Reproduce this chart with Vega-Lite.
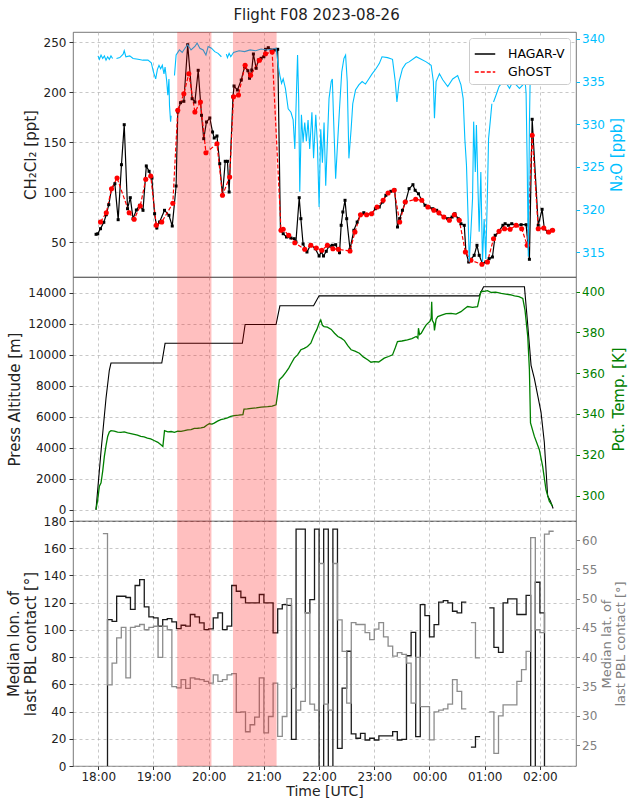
{
  "$schema": "https://vega.github.io/schema/vega-lite/v6.json",
  "padding": {"left": 5, "top": 7, "right": 0, "bottom": 0},
  "bounds": "flush",
  "title": {"text": "Flight F08 2023-08-26", "fontSize": 15, "font": "DejaVu Sans", "fontWeight": "normal", "anchor": "middle", "offset": 9, "color": "#222"},
  "config": {
    "font": "DejaVu Sans",
    "view": {"stroke": "#555", "strokeWidth": 0.8},
    "axis": {"labelFont": "DejaVu Sans", "titleFont": "DejaVu Sans", "labelFontSize": 12, "titleFontSize": 15, "titleFontWeight": "normal", "domain": false, "tickColor": "#333", "tickSize": 4, "labelColor": "#222", "titleColor": "#222", "gridDash": [3, 3], "gridColor": "#b0b0b0", "gridWidth": 0.7, "labelPadding": 3, "titlePadding": 5, "labelOverlap": false},
    "legend": {"labelFont": "DejaVu Sans", "labelFontSize": 12.5}
  },
  "spacing": 0,
  "datasets": {
    "shade": [{"t": 19.43, "t2": 20.05}, {"t": 20.44, "t2": 21.23}],
    "chem": [
      {"t": 17.96, "v": 58, "inst": "HAGAR-V"}, {"t": 17.99, "v": 58.5, "inst": "HAGAR-V"}, {"t": 18.04, "v": 63.6, "inst": "HAGAR-V"}, {"t": 18.10, "v": 70, "inst": "HAGAR-V"}, {"t": 18.145, "v": 77.6, "inst": "HAGAR-V"}, {"t": 18.19, "v": 87.6, "inst": "HAGAR-V"}, {"t": 18.24, "v": 103.6, "inst": "HAGAR-V"}, {"t": 18.30, "v": 108.6, "inst": "HAGAR-V"}, {"t": 18.36, "v": 72.6, "inst": "HAGAR-V"}, {"t": 18.42, "v": 127.6, "inst": "HAGAR-V"}, {"t": 18.47, "v": 167.6, "inst": "HAGAR-V"}, {"t": 18.53, "v": 83.6, "inst": "HAGAR-V"}, {"t": 18.58, "v": 94.6, "inst": "HAGAR-V"}, {"t": 18.63, "v": 73.6, "inst": "HAGAR-V"}, {"t": 18.69, "v": 82.3, "inst": "HAGAR-V"}, {"t": 18.75, "v": 87, "inst": "HAGAR-V"}, {"t": 18.81, "v": 82, "inst": "HAGAR-V"}, {"t": 18.87, "v": 126.3, "inst": "HAGAR-V"}, {"t": 18.92, "v": 121, "inst": "HAGAR-V"}, {"t": 18.97, "v": 114.3, "inst": "HAGAR-V"}, {"t": 19.02, "v": 78.6, "inst": "HAGAR-V"}, {"t": 19.06, "v": 64.3, "inst": "HAGAR-V"}, {"t": 19.11, "v": 70.3, "inst": "HAGAR-V"}, {"t": 19.20, "v": 82, "inst": "HAGAR-V"}, {"t": 19.28, "v": 77, "inst": "HAGAR-V"}, {"t": 19.34, "v": 66.3, "inst": "HAGAR-V"}, {"t": 19.41, "v": 106.3, "inst": "HAGAR-V"}, {"t": 19.44, "v": 180.3, "inst": "HAGAR-V"}, {"t": 19.49, "v": 189.6, "inst": "HAGAR-V"}, {"t": 19.55, "v": 191, "inst": "HAGAR-V"}, {"t": 19.62, "v": 247.6, "inst": "HAGAR-V"}, {"t": 19.70, "v": 193.6, "inst": "HAGAR-V"}, {"t": 19.75, "v": 190.3, "inst": "HAGAR-V"}, {"t": 19.81, "v": 222, "inst": "HAGAR-V"}, {"t": 19.87, "v": 177, "inst": "HAGAR-V"}, {"t": 19.91, "v": 153.6, "inst": "HAGAR-V"}, {"t": 19.96, "v": 170.3, "inst": "HAGAR-V"}, {"t": 20.02, "v": 174.3, "inst": "HAGAR-V"}, {"t": 20.07, "v": 160.3, "inst": "HAGAR-V"}, {"t": 20.10, "v": 154.3, "inst": "HAGAR-V"}, {"t": 20.15, "v": 156.3, "inst": "HAGAR-V"}, {"t": 20.20, "v": 128.6, "inst": "HAGAR-V"}, {"t": 20.25, "v": 97, "inst": "HAGAR-V"}, {"t": 20.30, "v": 131, "inst": "HAGAR-V"}, {"t": 20.34, "v": 131, "inst": "HAGAR-V"}, {"t": 20.37, "v": 100.3, "inst": "HAGAR-V"}, {"t": 20.44, "v": 195.6, "inst": "HAGAR-V"}, {"t": 20.46, "v": 206.3, "inst": "HAGAR-V"}, {"t": 20.52, "v": 202.3, "inst": "HAGAR-V"}, {"t": 20.59, "v": 212.3, "inst": "HAGAR-V"}, {"t": 20.65, "v": 225.6, "inst": "HAGAR-V"}, {"t": 20.71, "v": 221.6, "inst": "HAGAR-V"}, {"t": 20.74, "v": 214, "inst": "HAGAR-V"}, {"t": 20.78, "v": 222.3, "inst": "HAGAR-V"}, {"t": 20.81, "v": 238.3, "inst": "HAGAR-V"}, {"t": 20.86, "v": 224, "inst": "HAGAR-V"}, {"t": 20.90, "v": 232.3, "inst": "HAGAR-V"}, {"t": 20.95, "v": 234, "inst": "HAGAR-V"}, {"t": 21.00, "v": 235.6, "inst": "HAGAR-V"}, {"t": 21.03, "v": 243, "inst": "HAGAR-V"}, {"t": 21.08, "v": 244.6, "inst": "HAGAR-V"}, {"t": 21.13, "v": 242.3, "inst": "HAGAR-V"}, {"t": 21.19, "v": 242.3, "inst": "HAGAR-V"}, {"t": 21.25, "v": 243, "inst": "HAGAR-V"}, {"t": 21.30, "v": 62, "inst": "HAGAR-V"}, {"t": 21.35, "v": 58.6, "inst": "HAGAR-V"}, {"t": 21.41, "v": 55.3, "inst": "HAGAR-V"}, {"t": 21.49, "v": 54.3, "inst": "HAGAR-V"}, {"t": 21.55, "v": 53.6, "inst": "HAGAR-V"}, {"t": 21.58, "v": 50.3, "inst": "HAGAR-V"}, {"t": 21.64, "v": 94.6, "inst": "HAGAR-V"}, {"t": 21.67, "v": 73.6, "inst": "HAGAR-V"}, {"t": 21.71, "v": 48.3, "inst": "HAGAR-V"}, {"t": 21.78, "v": 40.3, "inst": "HAGAR-V"}, {"t": 21.85, "v": 47.6, "inst": "HAGAR-V"}, {"t": 21.93, "v": 43.6, "inst": "HAGAR-V"}, {"t": 22.00, "v": 36.3, "inst": "HAGAR-V"}, {"t": 22.04, "v": 40.3, "inst": "HAGAR-V"}, {"t": 22.08, "v": 36.3, "inst": "HAGAR-V"}, {"t": 22.13, "v": 41, "inst": "HAGAR-V"}, {"t": 22.18, "v": 46.3, "inst": "HAGAR-V"}, {"t": 22.24, "v": 47, "inst": "HAGAR-V"}, {"t": 22.30, "v": 47.6, "inst": "HAGAR-V"}, {"t": 22.37, "v": 39.6, "inst": "HAGAR-V"}, {"t": 22.40, "v": 67, "inst": "HAGAR-V"}, {"t": 22.43, "v": 80.3, "inst": "HAGAR-V"}, {"t": 22.47, "v": 92, "inst": "HAGAR-V"}, {"t": 22.50, "v": 73.6, "inst": "HAGAR-V"}, {"t": 22.56, "v": 43, "inst": "HAGAR-V"}, {"t": 22.63, "v": 62, "inst": "HAGAR-V"}, {"t": 22.69, "v": 70.3, "inst": "HAGAR-V"}, {"t": 22.75, "v": 77.6, "inst": "HAGAR-V"}, {"t": 22.81, "v": 79.6, "inst": "HAGAR-V"}, {"t": 22.87, "v": 77.6, "inst": "HAGAR-V"}, {"t": 22.95, "v": 78.6, "inst": "HAGAR-V"}, {"t": 23.02, "v": 83.6, "inst": "HAGAR-V"}, {"t": 23.09, "v": 85.3, "inst": "HAGAR-V"}, {"t": 23.15, "v": 90.3, "inst": "HAGAR-V"}, {"t": 23.21, "v": 97, "inst": "HAGAR-V"}, {"t": 23.30, "v": 101, "inst": "HAGAR-V"}, {"t": 23.37, "v": 102.6, "inst": "HAGAR-V"}, {"t": 23.42, "v": 65.3, "inst": "HAGAR-V"}, {"t": 23.46, "v": 73.6, "inst": "HAGAR-V"}, {"t": 23.51, "v": 82, "inst": "HAGAR-V"}, {"t": 23.57, "v": 91, "inst": "HAGAR-V"}, {"t": 23.63, "v": 103.6, "inst": "HAGAR-V"}, {"t": 23.70, "v": 107.6, "inst": "HAGAR-V"}, {"t": 23.74, "v": 102, "inst": "HAGAR-V"}, {"t": 23.80, "v": 98.6, "inst": "HAGAR-V"}, {"t": 23.86, "v": 92, "inst": "HAGAR-V"}, {"t": 23.92, "v": 87, "inst": "HAGAR-V"}, {"t": 23.99, "v": 85.3, "inst": "HAGAR-V"}, {"t": 24.06, "v": 83.6, "inst": "HAGAR-V"}, {"t": 24.13, "v": 82, "inst": "HAGAR-V"}, {"t": 24.18, "v": 78.6, "inst": "HAGAR-V"}, {"t": 24.27, "v": 75.3, "inst": "HAGAR-V"}, {"t": 24.33, "v": 73.6, "inst": "HAGAR-V"}, {"t": 24.41, "v": 75.3, "inst": "HAGAR-V"}, {"t": 24.46, "v": 78.6, "inst": "HAGAR-V"}, {"t": 24.52, "v": 73.6, "inst": "HAGAR-V"}, {"t": 24.57, "v": 68.6, "inst": "HAGAR-V"}, {"t": 24.63, "v": 67, "inst": "HAGAR-V"}, {"t": 24.66, "v": 40.3, "inst": "HAGAR-V"}, {"t": 24.71, "v": 30.3, "inst": "HAGAR-V"}, {"t": 24.75, "v": 33, "inst": "HAGAR-V"}, {"t": 24.81, "v": 37, "inst": "HAGAR-V"}, {"t": 24.86, "v": 47, "inst": "HAGAR-V"}, {"t": 24.90, "v": 37, "inst": "HAGAR-V"}, {"t": 24.96, "v": 28.6, "inst": "HAGAR-V"}, {"t": 25.02, "v": 30.3, "inst": "HAGAR-V"}, {"t": 25.08, "v": 33.6, "inst": "HAGAR-V"}, {"t": 25.14, "v": 35.3, "inst": "HAGAR-V"}, {"t": 25.19, "v": 57, "inst": "HAGAR-V"}, {"t": 25.25, "v": 60.3, "inst": "HAGAR-V"}, {"t": 25.33, "v": 67, "inst": "HAGAR-V"}, {"t": 25.37, "v": 68.6, "inst": "HAGAR-V"}, {"t": 25.43, "v": 67, "inst": "HAGAR-V"}, {"t": 25.49, "v": 68.6, "inst": "HAGAR-V"}, {"t": 25.57, "v": 67, "inst": "HAGAR-V"}, {"t": 25.66, "v": 67.6, "inst": "HAGAR-V"}, {"t": 25.75, "v": 67.6, "inst": "HAGAR-V"}, {"t": 25.81, "v": 33, "inst": "HAGAR-V"}, {"t": 25.86, "v": 173, "inst": "HAGAR-V"}, {"t": 25.97, "v": 67, "inst": "HAGAR-V"}, {"t": 26.04, "v": 83, "inst": "HAGAR-V"}, {"t": 26.08, "v": 63.6, "inst": "HAGAR-V"}, {"t": 26.14, "v": 60.3, "inst": "HAGAR-V"}, {"t": 26.21, "v": 62, "inst": "HAGAR-V"},
      {"t": 18.04, "v": 70.3, "inst": "GhOST"}, {"t": 18.145, "v": 79.6, "inst": "GhOST"}, {"t": 18.24, "v": 103.6, "inst": "GhOST"}, {"t": 18.34, "v": 114.3, "inst": "GhOST"}, {"t": 18.56, "v": 79.6, "inst": "GhOST"}, {"t": 18.65, "v": 73, "inst": "GhOST"}, {"t": 18.76, "v": 86.3, "inst": "GhOST"}, {"t": 18.86, "v": 113, "inst": "GhOST"}, {"t": 18.95, "v": 116.3, "inst": "GhOST"}, {"t": 19.05, "v": 67, "inst": "GhOST"}, {"t": 19.15, "v": 70.3, "inst": "GhOST"}, {"t": 19.35, "v": 89, "inst": "GhOST"}, {"t": 19.44, "v": 182, "inst": "GhOST"}, {"t": 19.55, "v": 198.6, "inst": "GhOST"}, {"t": 19.64, "v": 218.6, "inst": "GhOST"}, {"t": 19.75, "v": 180.3, "inst": "GhOST"}, {"t": 19.85, "v": 190.3, "inst": "GhOST"}, {"t": 19.95, "v": 139.6, "inst": "GhOST"}, {"t": 20.15, "v": 148.6, "inst": "GhOST"}, {"t": 20.25, "v": 97, "inst": "GhOST"}, {"t": 20.38, "v": 115.3, "inst": "GhOST"}, {"t": 20.45, "v": 195.6, "inst": "GhOST"}, {"t": 20.54, "v": 197.3, "inst": "GhOST"}, {"t": 20.66, "v": 227, "inst": "GhOST"}, {"t": 20.76, "v": 217, "inst": "GhOST"}, {"t": 20.92, "v": 232, "inst": "GhOST"}, {"t": 21.03, "v": 238.6, "inst": "GhOST"}, {"t": 21.15, "v": 240.3, "inst": "GhOST"}, {"t": 21.31, "v": 62, "inst": "GhOST"}, {"t": 21.35, "v": 63, "inst": "GhOST"}, {"t": 21.45, "v": 57, "inst": "GhOST"}, {"t": 21.56, "v": 49.6, "inst": "GhOST"}, {"t": 21.74, "v": 43, "inst": "GhOST"}, {"t": 21.85, "v": 47, "inst": "GhOST"}, {"t": 21.95, "v": 44.3, "inst": "GhOST"}, {"t": 22.05, "v": 42, "inst": "GhOST"}, {"t": 22.15, "v": 47, "inst": "GhOST"}, {"t": 22.25, "v": 43.6, "inst": "GhOST"}, {"t": 22.35, "v": 43, "inst": "GhOST"}, {"t": 22.56, "v": 41.3, "inst": "GhOST"}, {"t": 22.65, "v": 60.3, "inst": "GhOST"}, {"t": 22.75, "v": 77.6, "inst": "GhOST"}, {"t": 22.86, "v": 77.6, "inst": "GhOST"}, {"t": 22.95, "v": 78.6, "inst": "GhOST"}, {"t": 23.05, "v": 85.3, "inst": "GhOST"}, {"t": 23.16, "v": 92, "inst": "GhOST"}, {"t": 23.25, "v": 99.3, "inst": "GhOST"}, {"t": 23.36, "v": 102, "inst": "GhOST"}, {"t": 23.46, "v": 70.3, "inst": "GhOST"}, {"t": 23.56, "v": 90.3, "inst": "GhOST"}, {"t": 23.75, "v": 93, "inst": "GhOST"}, {"t": 23.86, "v": 92, "inst": "GhOST"}, {"t": 23.97, "v": 85.3, "inst": "GhOST"}, {"t": 24.08, "v": 82, "inst": "GhOST"}, {"t": 24.17, "v": 79.6, "inst": "GhOST"}, {"t": 24.26, "v": 75.3, "inst": "GhOST"}, {"t": 24.36, "v": 72, "inst": "GhOST"}, {"t": 24.45, "v": 77.6, "inst": "GhOST"}, {"t": 24.54, "v": 72, "inst": "GhOST"}, {"t": 24.65, "v": 40.3, "inst": "GhOST"}, {"t": 24.75, "v": 32, "inst": "GhOST"}, {"t": 24.95, "v": 28, "inst": "GhOST"}, {"t": 25.05, "v": 30.3, "inst": "GhOST"}, {"t": 25.16, "v": 53.6, "inst": "GhOST"}, {"t": 25.26, "v": 61, "inst": "GhOST"}, {"t": 25.36, "v": 63.6, "inst": "GhOST"}, {"t": 25.46, "v": 63, "inst": "GhOST"}, {"t": 25.57, "v": 67, "inst": "GhOST"}, {"t": 25.67, "v": 63.6, "inst": "GhOST"}, {"t": 25.77, "v": 47, "inst": "GhOST"}, {"t": 25.86, "v": 157, "inst": "GhOST"}, {"t": 25.97, "v": 63.6, "inst": "GhOST"}, {"t": 26.07, "v": 64.3, "inst": "GhOST"}, {"t": 26.16, "v": 60.3, "inst": "GhOST"}, {"t": 26.23, "v": 62, "inst": "GhOST"}
    ],
    "n2o": [
      {"t": 17.995, "v": 338.0, "seg": 1}, {"t": 18.02, "v": 337.6, "seg": 1}, {"t": 18.05, "v": 338.1, "seg": 1}, {"t": 18.08, "v": 337.7, "seg": 1}, {"t": 18.11, "v": 338.0, "seg": 1}, {"t": 18.14, "v": 337.5, "seg": 1}, {"t": 18.17, "v": 337.9, "seg": 1}, {"t": 18.20, "v": 337.6, "seg": 1}, {"t": 18.23, "v": 338.0, "seg": 1}, {"t": 18.26, "v": 337.7, "seg": 1},
      {"t": 18.33, "v": 337.7, "seg": 2}, {"t": 18.39, "v": 337.8, "seg": 2}, {"t": 18.45, "v": 338.2, "seg": 2}, {"t": 18.47, "v": 338.6, "seg": 2}, {"t": 18.50, "v": 337.9, "seg": 2}, {"t": 18.57, "v": 338.0, "seg": 2}, {"t": 18.63, "v": 337.7, "seg": 2}, {"t": 18.72, "v": 337.6, "seg": 2}, {"t": 18.81, "v": 337.5, "seg": 2}, {"t": 18.90, "v": 337.5, "seg": 2}, {"t": 18.96, "v": 337.2, "seg": 2}, {"t": 19.00, "v": 336.1, "seg": 2}, {"t": 19.04, "v": 335.3, "seg": 2}, {"t": 19.07, "v": 336.4, "seg": 2}, {"t": 19.10, "v": 336.9, "seg": 2}, {"t": 19.13, "v": 336.5, "seg": 2}, {"t": 19.16, "v": 336.9, "seg": 2}, {"t": 19.19, "v": 335.9, "seg": 2}, {"t": 19.21, "v": 336.7, "seg": 2}, {"t": 19.24, "v": 335.0, "seg": 2}, {"t": 19.26, "v": 333.4, "seg": 2}, {"t": 19.28, "v": 335.3, "seg": 2}, {"t": 19.29, "v": 332.2, "seg": 2}, {"t": 19.31, "v": 330.3, "seg": 2}, {"t": 19.32, "v": 331.0, "seg": 2},
      {"t": 19.38, "v": 335.7, "seg": 3}, {"t": 19.41, "v": 338.1, "seg": 3}, {"t": 19.47, "v": 338.7, "seg": 3}, {"t": 19.52, "v": 338.4, "seg": 3}, {"t": 19.57, "v": 338.9, "seg": 3}, {"t": 19.62, "v": 339.3, "seg": 3}, {"t": 19.68, "v": 338.7, "seg": 3}, {"t": 19.75, "v": 339.1, "seg": 3}, {"t": 19.79, "v": 339.5, "seg": 3}, {"t": 19.84, "v": 338.9, "seg": 3}, {"t": 19.90, "v": 338.7, "seg": 3}, {"t": 19.95, "v": 338.1, "seg": 3}, {"t": 19.99, "v": 339.1, "seg": 3}, {"t": 20.05, "v": 338.9, "seg": 3}, {"t": 20.11, "v": 338.5, "seg": 3}, {"t": 20.17, "v": 338.3, "seg": 3}, {"t": 20.23, "v": 337.9, "seg": 3},
      {"t": 20.32, "v": 338.2, "seg": 4}, {"t": 20.34, "v": 337.8, "seg": 4}, {"t": 20.37, "v": 338.3, "seg": 4}, {"t": 20.40, "v": 337.9, "seg": 4}, {"t": 20.45, "v": 338.4, "seg": 4}, {"t": 20.55, "v": 338.6, "seg": 4}, {"t": 20.65, "v": 338.5, "seg": 4}, {"t": 20.75, "v": 338.7, "seg": 4}, {"t": 20.85, "v": 338.6, "seg": 4}, {"t": 20.95, "v": 338.8, "seg": 4}, {"t": 21.05, "v": 338.7, "seg": 4}, {"t": 21.15, "v": 338.8, "seg": 4}, {"t": 21.22, "v": 338.9, "seg": 4}, {"t": 21.26, "v": 336.9, "seg": 4}, {"t": 21.29, "v": 335.7, "seg": 4}, {"t": 21.32, "v": 334.8, "seg": 4}, {"t": 21.35, "v": 335.3, "seg": 4}, {"t": 21.39, "v": 334.2, "seg": 4}, {"t": 21.44, "v": 331.8, "seg": 4}, {"t": 21.49, "v": 331.4, "seg": 4}, {"t": 21.53, "v": 330.5, "seg": 4}, {"t": 21.56, "v": 327.1, "seg": 4}, {"t": 21.61, "v": 338.1, "seg": 4}, {"t": 21.63, "v": 333.0, "seg": 4}, {"t": 21.65, "v": 322.1, "seg": 4}, {"t": 21.68, "v": 331.1, "seg": 4}, {"t": 21.71, "v": 327.9, "seg": 4}, {"t": 21.74, "v": 330.2, "seg": 4}, {"t": 21.77, "v": 328.0, "seg": 4}, {"t": 21.80, "v": 330.5, "seg": 4}, {"t": 21.83, "v": 327.1, "seg": 4}, {"t": 21.87, "v": 331.4, "seg": 4}, {"t": 21.90, "v": 326.0, "seg": 4}, {"t": 21.94, "v": 331.1, "seg": 4}, {"t": 21.97, "v": 327.6, "seg": 4}, {"t": 22.00, "v": 320.3, "seg": 4}, {"t": 22.03, "v": 329.4, "seg": 4}, {"t": 22.06, "v": 325.5, "seg": 4}, {"t": 22.09, "v": 330.2, "seg": 4}, {"t": 22.12, "v": 322.8, "seg": 4}, {"t": 22.15, "v": 328.0, "seg": 4}, {"t": 22.18, "v": 333.0, "seg": 4}, {"t": 22.22, "v": 335.0, "seg": 4}, {"t": 22.24, "v": 335.3, "seg": 4}, {"t": 22.26, "v": 331.1, "seg": 4}, {"t": 22.30, "v": 323.6, "seg": 4}, {"t": 22.34, "v": 328.4, "seg": 4}, {"t": 22.37, "v": 331.8, "seg": 4}, {"t": 22.41, "v": 336.1, "seg": 4}, {"t": 22.45, "v": 337.7, "seg": 4}, {"t": 22.48, "v": 338.1, "seg": 4}, {"t": 22.51, "v": 335.0, "seg": 4}, {"t": 22.54, "v": 326.0, "seg": 4}, {"t": 22.58, "v": 329.4, "seg": 4}, {"t": 22.61, "v": 332.4, "seg": 4}, {"t": 22.66, "v": 334.0, "seg": 4}, {"t": 22.72, "v": 334.6, "seg": 4}, {"t": 22.78, "v": 335.0, "seg": 4}, {"t": 22.84, "v": 334.7, "seg": 4}, {"t": 22.90, "v": 335.3, "seg": 4}, {"t": 22.96, "v": 335.9, "seg": 4}, {"t": 23.03, "v": 336.5, "seg": 4}, {"t": 23.09, "v": 337.1, "seg": 4}, {"t": 23.14, "v": 337.9, "seg": 4}, {"t": 23.24, "v": 337.8, "seg": 4}, {"t": 23.33, "v": 337.6, "seg": 4}, {"t": 23.38, "v": 335.0, "seg": 4}, {"t": 23.41, "v": 332.6, "seg": 4}, {"t": 23.45, "v": 335.0, "seg": 4}, {"t": 23.51, "v": 336.5, "seg": 4}, {"t": 23.57, "v": 337.1, "seg": 4}, {"t": 23.63, "v": 337.3, "seg": 4}, {"t": 23.76, "v": 337.9, "seg": 4}, {"t": 23.85, "v": 337.6, "seg": 4}, {"t": 23.94, "v": 337.3, "seg": 4}, {"t": 24.03, "v": 336.9, "seg": 4}, {"t": 24.07, "v": 335.0, "seg": 4}, {"t": 24.09, "v": 330.7, "seg": 4}, {"t": 24.12, "v": 335.0, "seg": 4}, {"t": 24.18, "v": 335.9, "seg": 4}, {"t": 24.24, "v": 335.2, "seg": 4}, {"t": 24.33, "v": 334.4, "seg": 4}, {"t": 24.42, "v": 335.3, "seg": 4}, {"t": 24.51, "v": 335.7, "seg": 4}, {"t": 24.57, "v": 334.6, "seg": 4}, {"t": 24.61, "v": 333.0, "seg": 4}, {"t": 24.64, "v": 328.3, "seg": 4}, {"t": 24.67, "v": 325.2, "seg": 4}, {"t": 24.70, "v": 318.9, "seg": 4}, {"t": 24.72, "v": 313.9, "seg": 4}, {"t": 24.75, "v": 317.4, "seg": 4}, {"t": 24.78, "v": 321.3, "seg": 4}, {"t": 24.80, "v": 330.3, "seg": 4}, {"t": 24.83, "v": 324.4, "seg": 4}, {"t": 24.85, "v": 329.9, "seg": 4}, {"t": 24.88, "v": 322.1, "seg": 4}, {"t": 24.90, "v": 317.4, "seg": 4}, {"t": 24.93, "v": 324.4, "seg": 4}, {"t": 24.96, "v": 313.9, "seg": 4}, {"t": 24.99, "v": 318.9, "seg": 4}, {"t": 25.02, "v": 314.2, "seg": 4}, {"t": 25.05, "v": 322.1, "seg": 4}, {"t": 25.07, "v": 328.3, "seg": 4}, {"t": 25.10, "v": 330.3, "seg": 4}, {"t": 25.13, "v": 332.4, "seg": 4},
      {"t": 25.16, "v": 332.6, "seg": 5}, {"t": 25.20, "v": 333.3, "seg": 5}, {"t": 25.26, "v": 334.4, "seg": 5}, {"t": 25.33, "v": 335.0, "seg": 5}, {"t": 25.39, "v": 334.8, "seg": 5}, {"t": 25.45, "v": 334.2, "seg": 5}, {"t": 25.51, "v": 335.0, "seg": 5}, {"t": 25.57, "v": 334.6, "seg": 5}, {"t": 25.63, "v": 334.2, "seg": 5}, {"t": 25.69, "v": 334.6, "seg": 5}, {"t": 25.73, "v": 335.3, "seg": 5}, {"t": 25.75, "v": 333.6, "seg": 5}, {"t": 25.77, "v": 325.2, "seg": 5}, {"t": 25.79, "v": 314.5, "seg": 5}, {"t": 25.81, "v": 330.0, "seg": 5}, {"t": 25.83, "v": 337.7, "seg": 5}, {"t": 25.90, "v": 338.2, "seg": 5}, {"t": 25.98, "v": 337.8, "seg": 5}, {"t": 26.06, "v": 338.0, "seg": 5}, {"t": 26.14, "v": 337.6, "seg": 5}, {"t": 26.22, "v": 338.1, "seg": 5}
    ],
    "alt": [
      {"t": 17.958, "v": 0}, {"t": 18.05, "v": 3800}, {"t": 18.14, "v": 7200}, {"t": 18.20, "v": 9000}, {"t": 18.23, "v": 9470}, {"t": 19.15, "v": 9470}, {"t": 19.21, "v": 10740}, {"t": 20.61, "v": 10740}, {"t": 20.66, "v": 11950}, {"t": 21.22, "v": 11950}, {"t": 21.29, "v": 13160}, {"t": 21.90, "v": 13160}, {"t": 22.00, "v": 13800}, {"t": 24.90, "v": 13800}, {"t": 24.98, "v": 14390}, {"t": 25.72, "v": 14390}, {"t": 25.77, "v": 12340}, {"t": 25.84, "v": 9320}, {"t": 25.90, "v": 8457}, {"t": 26.02, "v": 6300}, {"t": 26.08, "v": 4360}, {"t": 26.14, "v": 905}, {"t": 26.19, "v": 580}, {"t": 26.24, "v": 90}
    ],
    "theta": [
      {"t": 17.958, "v": 293.1}, {"t": 17.99, "v": 298}, {"t": 18.02, "v": 304.6}, {"t": 18.05, "v": 306.2}, {"t": 18.08, "v": 312}, {"t": 18.11, "v": 319.2}, {"t": 18.14, "v": 324.5}, {"t": 18.17, "v": 329}, {"t": 18.20, "v": 331.2}, {"t": 18.23, "v": 331.8}, {"t": 18.29, "v": 331.6}, {"t": 18.35, "v": 331.1}, {"t": 18.41, "v": 331.0}, {"t": 18.47, "v": 331.2}, {"t": 18.53, "v": 330.7}, {"t": 18.59, "v": 330.4}, {"t": 18.65, "v": 330.0}, {"t": 18.71, "v": 329.6}, {"t": 18.77, "v": 329.0}, {"t": 18.83, "v": 328.8}, {"t": 18.89, "v": 328.2}, {"t": 18.95, "v": 327.8}, {"t": 19.01, "v": 327.0}, {"t": 19.08, "v": 326.1}, {"t": 19.14, "v": 324.8}, {"t": 19.17, "v": 324.1}, {"t": 19.20, "v": 331.8}, {"t": 19.26, "v": 331.2}, {"t": 19.32, "v": 331.4}, {"t": 19.38, "v": 331.0}, {"t": 19.44, "v": 331.6}, {"t": 19.50, "v": 331.5}, {"t": 19.56, "v": 331.8}, {"t": 19.62, "v": 332.2}, {"t": 19.68, "v": 332.3}, {"t": 19.74, "v": 332.9}, {"t": 19.80, "v": 333.0}, {"t": 19.86, "v": 333.2}, {"t": 19.92, "v": 333.6}, {"t": 19.97, "v": 334.6}, {"t": 20.01, "v": 335.2}, {"t": 20.06, "v": 335.0}, {"t": 20.10, "v": 335.5}, {"t": 20.16, "v": 336.5}, {"t": 20.22, "v": 337.2}, {"t": 20.28, "v": 337.6}, {"t": 20.34, "v": 338.1}, {"t": 20.40, "v": 338.8}, {"t": 20.46, "v": 339.2}, {"t": 20.54, "v": 339.4}, {"t": 20.62, "v": 339.7}, {"t": 20.64, "v": 342.4}, {"t": 20.70, "v": 342.5}, {"t": 20.77, "v": 342.8}, {"t": 20.86, "v": 343.0}, {"t": 20.95, "v": 343.4}, {"t": 21.07, "v": 343.6}, {"t": 21.15, "v": 343.9}, {"t": 21.22, "v": 344.5}, {"t": 21.25, "v": 350}, {"t": 21.28, "v": 356.8}, {"t": 21.34, "v": 358.4}, {"t": 21.40, "v": 360.5}, {"t": 21.45, "v": 362.5}, {"t": 21.49, "v": 364.5}, {"t": 21.55, "v": 367.4}, {"t": 21.61, "v": 369.0}, {"t": 21.67, "v": 371.5}, {"t": 21.73, "v": 372.2}, {"t": 21.79, "v": 373.1}, {"t": 21.85, "v": 374.7}, {"t": 21.91, "v": 378.8}, {"t": 21.96, "v": 381.5}, {"t": 22.00, "v": 384.5}, {"t": 22.03, "v": 386.1}, {"t": 22.06, "v": 383.5}, {"t": 22.09, "v": 382.9}, {"t": 22.15, "v": 382.6}, {"t": 22.22, "v": 381.5}, {"t": 22.28, "v": 379.6}, {"t": 22.34, "v": 378.0}, {"t": 22.40, "v": 377.2}, {"t": 22.46, "v": 376.0}, {"t": 22.52, "v": 373.5}, {"t": 22.58, "v": 371.5}, {"t": 22.65, "v": 370.8}, {"t": 22.73, "v": 369.8}, {"t": 22.80, "v": 368.0}, {"t": 22.88, "v": 366.6}, {"t": 22.94, "v": 365.4}, {"t": 23.00, "v": 365.7}, {"t": 23.08, "v": 365.5}, {"t": 23.18, "v": 367.4}, {"t": 23.26, "v": 368.2}, {"t": 23.33, "v": 369.0}, {"t": 23.38, "v": 372.5}, {"t": 23.42, "v": 375.5}, {"t": 23.50, "v": 375.8}, {"t": 23.60, "v": 376.4}, {"t": 23.68, "v": 377.0}, {"t": 23.76, "v": 378.0}, {"t": 23.79, "v": 377.2}, {"t": 23.80, "v": 382.1}, {"t": 23.82, "v": 379.0}, {"t": 23.85, "v": 379.6}, {"t": 23.90, "v": 382.0}, {"t": 23.94, "v": 383.7}, {"t": 24.01, "v": 385.5}, {"t": 24.03, "v": 387.0}, {"t": 24.04, "v": 395.1}, {"t": 24.05, "v": 386}, {"t": 24.08, "v": 384.5}, {"t": 24.09, "v": 381}, {"t": 24.12, "v": 386.5}, {"t": 24.15, "v": 387.8}, {"t": 24.22, "v": 388.5}, {"t": 24.30, "v": 389.2}, {"t": 24.39, "v": 389.4}, {"t": 24.48, "v": 389.0}, {"t": 24.57, "v": 390.2}, {"t": 24.63, "v": 391.5}, {"t": 24.69, "v": 392.7}, {"t": 24.78, "v": 392.3}, {"t": 24.87, "v": 392.7}, {"t": 24.93, "v": 400.0}, {"t": 24.99, "v": 400.2}, {"t": 25.05, "v": 400.5}, {"t": 25.12, "v": 399.6}, {"t": 25.20, "v": 399.8}, {"t": 25.30, "v": 399.2}, {"t": 25.38, "v": 398.8}, {"t": 25.46, "v": 398.5}, {"t": 25.54, "v": 397.9}, {"t": 25.62, "v": 397.6}, {"t": 25.69, "v": 396.7}, {"t": 25.73, "v": 391}, {"t": 25.78, "v": 378}, {"t": 25.81, "v": 361.7}, {"t": 25.83, "v": 335.6}, {"t": 25.90, "v": 329}, {"t": 25.99, "v": 322.5}, {"t": 26.05, "v": 314.3}, {"t": 26.11, "v": 302.9}, {"t": 26.17, "v": 297.2}, {"t": 26.23, "v": 294.8}
    ],
    "pbl": [
      {"t": 18.083, "lon": -10, "lat": 61.1, "seg": 1}, {"t": 18.167, "lon": 107.6, "lat": 35.3, "seg": 1}, {"t": 18.250, "lon": 106.3, "lat": 39.0, "seg": 1}, {"t": 18.333, "lon": 124.7, "lat": 43.3, "seg": 1}, {"t": 18.417, "lon": 124.7, "lat": 45.1, "seg": 1}, {"t": 18.500, "lon": 123.8, "lat": 36.5, "seg": 1}, {"t": 18.583, "lon": 115.0, "lat": 45.1, "seg": 1}, {"t": 18.667, "lon": 132.6, "lat": 45.3, "seg": 1}, {"t": 18.750, "lon": 137.0, "lat": 45.6, "seg": 1}, {"t": 18.833, "lon": 116.9, "lat": 44.7, "seg": 1}, {"t": 18.917, "lon": 109.5, "lat": 45.1, "seg": 1}, {"t": 19.000, "lon": 108.8, "lat": 45.3, "seg": 1}, {"t": 19.083, "lon": 102.7, "lat": 40.0, "seg": 1}, {"t": 19.167, "lon": 107.6, "lat": 45.3, "seg": 1}, {"t": 19.250, "lon": 108.3, "lat": 44.7, "seg": 1}, {"t": 19.333, "lon": 105.9, "lat": 35.0, "seg": 1}, {"t": 19.417, "lon": 100.9, "lat": 34.8, "seg": 1}, {"t": 19.500, "lon": 103.4, "lat": 36.2, "seg": 1}, {"t": 19.583, "lon": 102.7, "lat": 34.7, "seg": 1}, {"t": 19.667, "lon": 111.3, "lat": 36.5, "seg": 1}, {"t": 19.750, "lon": 109.5, "lat": 36.3, "seg": 1}, {"t": 19.833, "lon": 105.1, "lat": 36.2, "seg": 1}, {"t": 19.917, "lon": 100.2, "lat": 35.9, "seg": 1}, {"t": 20.000, "lon": 100.7, "lat": 35.6, "seg": 1}, {"t": 20.083, "lon": 108.8, "lat": 37.0, "seg": 1}, {"t": 20.167, "lon": 112.5, "lat": 35.9, "seg": 1}, {"t": 20.250, "lon": 100.2, "lat": 36.2, "seg": 1}, {"t": 20.333, "lon": 102.7, "lat": 37.0, "seg": 1}, {"t": 20.417, "lon": 132.6, "lat": 37.2, "seg": 1}, {"t": 20.500, "lon": 128.4, "lat": 30.6, "seg": 1}, {"t": 20.583, "lon": 123.8, "lat": 30.7, "seg": 1}, {"t": 20.667, "lon": 119.9, "lat": 27.3, "seg": 1}, {"t": 20.750, "lon": 119.9, "lat": 28.5, "seg": 1}, {"t": 20.833, "lon": 119.9, "lat": 29.8, "seg": 1}, {"t": 20.917, "lon": 126.0, "lat": 36.5, "seg": 1}, {"t": 21.000, "lon": 119.9, "lat": 27.1, "seg": 1}, {"t": 21.083, "lon": 119.9, "lat": 29.9, "seg": 1}, {"t": 21.167, "lon": 97.8, "lat": 35.6, "seg": 1}, {"t": 21.250, "lon": 115.4, "lat": 26.5, "seg": 1}, {"t": 21.333, "lon": 118.6, "lat": 29.9, "seg": 1}, {"t": 21.417, "lon": 118.0, "lat": 50.0, "seg": 1}, {"t": 21.500, "lon": 19.6, "lat": 34.7, "seg": 1}, {"t": 21.583, "lon": 174, "lat": 31.0, "seg": 1}, {"t": 21.667, "lon": 174, "lat": 32.5, "seg": 1}, {"t": 21.750, "lon": 112.5, "lat": 47.6, "seg": 1}, {"t": 21.833, "lon": 122.3, "lat": 32.0, "seg": 1}, {"t": 21.917, "lon": 174, "lat": 31.0, "seg": 1}, {"t": 22.000, "lon": -20, "lat": 56.0, "seg": 1}, {"t": 22.083, "lon": 174, "lat": 32.0, "seg": 1}, {"t": 22.167, "lon": -20, "lat": 31.0, "seg": 1}, {"t": 22.250, "lon": 174, "lat": 56.0, "seg": 1}, {"t": 22.333, "lon": 13.0, "lat": 46.4, "seg": 1}, {"t": 22.417, "lon": 57.2, "lat": 41.0, "seg": 1}, {"t": 22.500, "lon": 84.3, "lat": 32.2, "seg": 1}, {"t": 22.583, "lon": 23.6, "lat": 45.9, "seg": 1}, {"t": 22.667, "lon": 20.4, "lat": 45.6, "seg": 1}, {"t": 22.750, "lon": 24.0, "lat": 45.6, "seg": 1}, {"t": 22.833, "lon": 19.1, "lat": 44.2, "seg": 1}, {"t": 22.917, "lon": 20.4, "lat": 43.0, "seg": 1}, {"t": 23.000, "lon": 19.1, "lat": 44.8, "seg": 1}, {"t": 23.083, "lon": 22.1, "lat": 45.9, "seg": 1}, {"t": 23.167, "lon": 22.1, "lat": 43.5, "seg": 1}, {"t": 23.250, "lon": 22.1, "lat": 41.9, "seg": 1}, {"t": 23.333, "lon": 25.3, "lat": 40.2, "seg": 1}, {"t": 23.417, "lon": 19.1, "lat": 40.8, "seg": 1}, {"t": 23.500, "lon": 19.5, "lat": 40.5, "seg": 1}, {"t": 23.583, "lon": 81.0, "lat": 39.0, "seg": 1}, {"t": 23.667, "lon": 98.2, "lat": 32.2, "seg": 1}, {"t": 23.750, "lon": 21.6, "lat": 40.0, "seg": 1}, {"t": 23.833, "lon": 118.6, "lat": 31.6, "seg": 1}, {"t": 23.917, "lon": 110.5, "lat": 31.6, "seg": 1}, {"t": 24.000, "lon": 94.8, "lat": 25.9, "seg": 1}, {"t": 24.083, "lon": 103.9, "lat": 30.7, "seg": 1}, {"t": 24.167, "lon": 120.4, "lat": 31.0, "seg": 1}, {"t": 24.250, "lon": 121.5, "lat": 31.2, "seg": 1}, {"t": 24.333, "lon": 119.9, "lat": 32.0, "seg": 1}, {"t": 24.417, "lon": 113.7, "lat": 36.2, "seg": 1}, {"t": 24.500, "lon": 112.5, "lat": 34.2, "seg": 1}, {"t": 24.583, "lon": 120.4, "lat": 31.2, "seg": 1}, {"t": 24.667, "lon": 120.4, "lat": 31.2, "seg": 1},
      {"t": 24.750, "lon": 13.8, "lat": 45.9, "seg": 2}, {"t": 24.833, "lon": 21.6, "lat": 39.9, "seg": 2}, {"t": 24.917, "lon": 21.6, "lat": 39.9, "seg": 2},
      {"t": 25.083, "lon": 116.2, "lat": 30.7, "seg": 3}, {"t": 25.167, "lon": 87.2, "lat": 23.6, "seg": 3}, {"t": 25.250, "lon": 83.5, "lat": 30.0, "seg": 3}, {"t": 25.333, "lon": 119.9, "lat": 31.9, "seg": 3}, {"t": 25.417, "lon": 122.8, "lat": 31.9, "seg": 3}, {"t": 25.500, "lon": 122.8, "lat": 31.9, "seg": 3}, {"t": 25.583, "lon": 111.3, "lat": 35.9, "seg": 3}, {"t": 25.667, "lon": 111.3, "lat": 37.9, "seg": 3}, {"t": 25.750, "lon": 125.3, "lat": 41.0, "seg": 3}, {"t": 25.833, "lon": -20, "lat": 60.4, "seg": 3}, {"t": 25.917, "lon": 135.0, "lat": 44.7, "seg": 3}, {"t": 26.000, "lon": 112.5, "lat": 44.2, "seg": 3}, {"t": 26.083, "lon": -20, "lat": 61.0, "seg": 3}, {"t": 26.167, "lon": -20, "lat": 61.5, "seg": 3}, {"t": 26.250, "lon": -20, "lat": 61.5, "seg": 3}
    ]
  },
  "vconcat": [
    {
      "width": 503, "height": 245,
      "encoding": {"x": {"field": "t", "type": "quantitative", "scale": {"domain": [17.542, 26.654], "nice": false, "zero": false}, "axis": {"values": [18, 19, 20, 21, 22, 23, 24, 25, 26], "labels": false, "ticks": false, "title": null, "grid": true}}},
      "layer": [
        {
          "layer": [
            {"data": {"name": "chem"}, "mark": {"type": "line", "strokeWidth": 1.2},
             "encoding": {
               "y": {"field": "v", "type": "quantitative", "scale": {"domain": [15.3, 260.3], "nice": false, "zero": false}, "axis": {"orient": "left", "values": [50, 100, 150, 200, 250], "labelOverlap": false, "grid": true, "title": "CH₂Cl₂ [ppt]"}},
               "color": {"field": "inst", "type": "nominal", "scale": {"domain": ["HAGAR-V", "GhOST"], "range": ["black", "red"]}, "legend": {"title": null, "orient": "top-right", "offset": 6, "fillColor": "white", "strokeColor": "#cccccc", "padding": 5, "cornerRadius": 3, "symbolType": "stroke", "symbolSize": 420, "symbolStrokeWidth": 1.5, "rowPadding": 0, "labelOffset": 12}},
               "strokeDash": {"field": "inst", "type": "nominal", "scale": {"domain": ["HAGAR-V", "GhOST"], "range": [[1, 0], [4, 2]]}, "legend": {"title": null, "orient": "top-right", "offset": 6, "fillColor": "white", "strokeColor": "#cccccc", "padding": 5, "cornerRadius": 3, "symbolType": "stroke", "symbolSize": 420, "symbolStrokeWidth": 1.5, "rowPadding": 0, "labelOffset": 12}}
             }},
            {"data": {"name": "chem"}, "transform": [{"filter": "datum.inst == 'HAGAR-V'"}], "mark": {"type": "square", "filled": true, "opacity": 1, "color": "black", "size": 9},
             "encoding": {"y": {"field": "v", "type": "quantitative", "axis": {"orient": "left", "values": [50, 100, 150, 200, 250], "labelOverlap": false, "grid": true, "title": "CH₂Cl₂ [ppt]"}}}},
            {"data": {"name": "chem"}, "transform": [{"filter": "datum.inst == 'GhOST'"}], "mark": {"type": "circle", "filled": true, "opacity": 1, "color": "red", "size": 26},
             "encoding": {"y": {"field": "v", "type": "quantitative", "axis": {"orient": "left", "values": [50, 100, 150, 200, 250], "labelOverlap": false, "grid": true, "title": "CH₂Cl₂ [ppt]"}}}},
            {"data": {"values": [{"lab": "A"}]}, "mark": {"type": "text", "fontWeight": "bold", "fontSize": 15, "align": "left", "baseline": "middle", "font": "DejaVu Sans"},
             "encoding": {"x": {"datum": 17.68, "type": "quantitative"}, "y": {"datum": 245, "type": "quantitative", "axis": {"orient": "left", "values": [50, 100, 150, 200, 250], "labelOverlap": false, "grid": true, "title": "CH₂Cl₂ [ppt]"}}, "text": {"field": "lab"}}}
          ]
        },
        {"data": {"name": "n2o"}, "mark": {"type": "line", "strokeWidth": 1.1, "color": "#00bfff"},
         "encoding": {
           "y": {"field": "v", "type": "quantitative", "scale": {"domain": [312.1, 340.8], "nice": false, "zero": false}, "axis": {"orient": "right", "values": [315, 320, 325, 330, 335, 340], "labelOverlap": false, "grid": false, "title": "N₂O [ppb]", "titleAngle": 270, "titleBaseline": "middle", "titleX": 40, "tickSize": 3.5, "labelPadding": 2, "labelColor": "#00bfff", "titleColor": "#00bfff", "tickColor": "#00bfff"}},
           "detail": {"field": "seg"}
         }},
        {"data": {"name": "shade"}, "mark": {"type": "rect", "color": "red", "opacity": 0.25},
         "encoding": {"x2": {"field": "t2"}}}
      ],
      "resolve": {"scale": {"y": "independent"}}
    },
    {
      "width": 503, "height": 244,
      "encoding": {"x": {"field": "t", "type": "quantitative", "scale": {"domain": [17.542, 26.654], "nice": false, "zero": false}, "axis": {"values": [18, 19, 20, 21, 22, 23, 24, 25, 26], "labels": false, "ticks": false, "title": null, "grid": true}}},
      "layer": [
        {
          "layer": [
            {"data": {"name": "alt"}, "mark": {"type": "line", "strokeWidth": 1.1, "color": "black"},
             "encoding": {"y": {"field": "v", "type": "quantitative", "scale": {"domain": [-715, 15015], "nice": false, "zero": false}, "axis": {"orient": "left", "values": [0, 2000, 4000, 6000, 8000, 10000, 12000, 14000], "labelOverlap": false, "grid": true, "title": "Press Altitude [m]", "format": "d"}}}},
            {"data": {"values": [{"lab": "B"}]}, "mark": {"type": "text", "fontWeight": "bold", "fontSize": 15, "align": "left", "baseline": "middle", "font": "DejaVu Sans"},
             "encoding": {"x": {"datum": 17.68, "type": "quantitative"}, "y": {"datum": 13800, "type": "quantitative", "axis": {"orient": "left", "values": [0, 2000, 4000, 6000, 8000, 10000, 12000, 14000], "labelOverlap": false, "grid": true, "title": "Press Altitude [m]", "format": "d"}}, "text": {"field": "lab"}}}
          ]
        },
        {"data": {"name": "theta"}, "mark": {"type": "line", "strokeWidth": 1.3, "color": "green"},
         "encoding": {"y": {"field": "v", "type": "quantitative", "scale": {"domain": [287.5, 407.2], "nice": false, "zero": false}, "axis": {"orient": "right", "values": [300, 320, 340, 360, 380, 400], "labelOverlap": false, "grid": false, "title": "Pot. Temp. [K]", "titleAngle": 270, "titleBaseline": "middle", "titleX": 42, "tickSize": 3.5, "labelPadding": 2, "labelColor": "green", "titleColor": "green", "tickColor": "green"}}}},
        {"data": {"name": "shade"}, "mark": {"type": "rect", "color": "red", "opacity": 0.25},
         "encoding": {"x2": {"field": "t2"}}}
      ],
      "resolve": {"scale": {"y": "independent"}}
    },
    {
      "width": 503, "height": 245,
      "encoding": {"x": {"field": "t", "type": "quantitative", "scale": {"domain": [17.542, 26.654], "nice": false, "zero": false}, "axis": {"values": [18, 19, 20, 21, 22, 23, 24, 25, 26], "title": "Time [UTC]", "titleFontSize": 14, "grid": true, "tickSize": 3.5, "labelPadding": 2, "titlePadding": 2, "labelExpr": "(datum.value % 24 < 10 ? '0' : '') + (datum.value % 24) + ':00'"}}},
      "layer": [
        {
          "layer": [
            {"data": {"name": "pbl"}, "mark": {"type": "line", "strokeWidth": 1.3, "color": "#1a1a1a", "interpolate": "step-after", "clip": true},
             "encoding": {"y": {"field": "lon", "type": "quantitative", "scale": {"domain": [0, 180], "nice": false, "zero": false}, "axis": {"orient": "left", "values": [0, 20, 40, 60, 80, 100, 120, 140, 160, 180], "labelOverlap": false, "grid": true, "title": ["Median lon. of", "last PBL contact [°]"], "titleLineHeight": 17}}, "detail": {"field": "seg"}}},
            {"data": {"values": [{"lab": "C"}]}, "mark": {"type": "text", "fontWeight": "bold", "fontSize": 15, "align": "left", "baseline": "middle", "font": "DejaVu Sans"},
             "encoding": {"x": {"datum": 17.68, "type": "quantitative"}, "y": {"datum": 165.8, "type": "quantitative", "axis": {"orient": "left", "values": [0, 20, 40, 60, 80, 100, 120, 140, 160, 180], "labelOverlap": false, "grid": true, "title": ["Median lon. of", "last PBL contact [°]"], "titleLineHeight": 17}}, "text": {"field": "lab"}}}
          ]
        },
        {"data": {"name": "pbl"}, "mark": {"type": "line", "strokeWidth": 1.3, "color": "#8c8c8c", "interpolate": "step-after", "clip": true},
         "encoding": {"y": {"field": "lat", "type": "quantitative", "scale": {"domain": [21.46, 63.25], "nice": false, "zero": false}, "axis": {"orient": "right", "values": [25, 30, 35, 40, 45, 50, 55, 60], "labelOverlap": false, "grid": false, "title": ["Median lat. of", "last PBL contact [°]"], "titleFontSize": 13, "titleLineHeight": 14, "titleAngle": 270, "titleBaseline": "middle", "titleX": 30, "tickSize": 3.5, "labelPadding": 2, "labelColor": "#808080", "titleColor": "#808080", "tickColor": "#808080"}}, "detail": {"field": "seg"}}},
        {"data": {"name": "shade"}, "mark": {"type": "rect", "color": "red", "opacity": 0.25},
         "encoding": {"x2": {"field": "t2"}}}
      ],
      "resolve": {"scale": {"y": "independent"}}
    }
  ]
}
